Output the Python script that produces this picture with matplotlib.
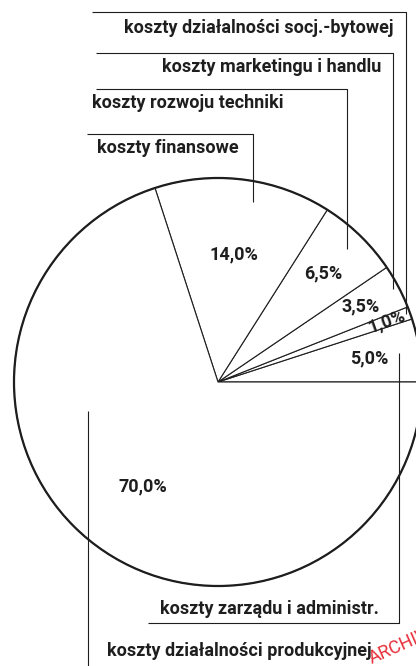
import numpy as np
import matplotlib
matplotlib.use("Agg")
import matplotlib.pyplot as plt

# ---- data ----
categories = ["koszty zarządu i administr.",
              "koszty działalności socj.-bytowej",
              "koszty marketingu i handlu",
              "koszty rozwoju techniki",
              "koszty finansowe",
              "koszty działalności produkcyjnej"]
shares = [5.0, 1.0, 3.5, 6.5, 14.0, 70.0]
pct_labels = [f"{v:.1f}%".replace(".", ",") for v in shares]

# ---- layout (pixel-like coordinates, y up) ----
W, H = 416, 666
fig = plt.figure(figsize=(W / 100, H / 100), dpi=100)
ax = fig.add_axes([0, 0, 1, 1])

def py(y):  # convert from top-based pixel y
    return H - y

cx, cy, R = 218, py(382), 204
ink = "#1e1e1e"
FONT = ["Roboto", "DejaVu Sans"]
fs = 13
fw = "bold"

wedges, _ = ax.pie(shares, startangle=0, counterclock=True, center=(cx, cy),
                   radius=R, colors=["white"] * len(shares),
                   wedgeprops=dict(edgecolor=ink, linewidth=0.8))
ax.set_xlim(0, W)
ax.set_ylim(0, H)
ax.set_aspect("equal")
ax.axis("off")
circ = plt.Circle((cx, cy), R, fill=False, edgecolor=ink, linewidth=1.6, zorder=3)
ax.add_patch(circ)

def point(w, frac_r, ang=None):
    a = (w.theta1 + w.theta2) / 2 if ang is None else ang
    r = frac_r * R
    return cx + r * np.cos(np.radians(a)), cy + r * np.sin(np.radians(a)), a

# percentage labels
lab_r = [0.75, 0.88, 0.79, 0.74, 0.63, 0.63]
for i, (w, lab, fr) in enumerate(zip(wedges, pct_labels, lab_r)):
    x, y, a = point(w, fr)
    rot = a if i == 1 else 0
    ax.text(x, y, lab, ha="center", va="center", fontsize=fs, family=FONT,
            fontweight=fw, color=ink, rotation=rot, rotation_mode="anchor",
            zorder=5)

lw = 0.8
def line(xs, ys):
    ax.plot(xs, ys, color=ink, linewidth=lw, solid_capstyle="butt", zorder=4)

def label(x, y, s, ha):
    ax.text(x, y, s, ha=ha, va="center", fontsize=fs, family=FONT,
            fontweight=fw, color=ink, zorder=5)

# socj.-bytowej (1%): top line + right vertical
x, y, _ = point(wedges[1], 0.98)
line([92, x, x], [py(12), py(12), y])
label(x - 13, py(28), categories[1], "right")

# marketing (3.5%)
x, y, _ = point(wedges[2], 0.97)
line([96, x, x], [py(53), py(53), y])
label(x - 12, py(67), categories[2], "right")

# rozwoju techniki (6.5%)
x, y, _ = point(wedges[3], 0.91)
line([96, x, x], [py(89), py(89), y])
label(92, py(103), categories[3], "left")

# finansowe (14%)
x, y, _ = point(wedges[4], 0.90, ang=79)
line([87, x, x], [py(134), py(134), y])
label(97, py(148), categories[4], "left")

# zarzadu (5%): bottom line + right vertical going up
x, y, _ = point(wedges[0], 0.90)
line([148, x, x], [py(623), py(623), y])
label(x - 20, py(609), categories[0], "right")

# produkcyjnej (70%): left vertical going down
x, y, _ = point(wedges[5], 0.655, ang=192.6)
line([x, x], [y, 0])
label(x + 19, py(651), categories[5], "left")

# archive stamp (partially visible, red)
ax.text(372, py(664), "ARCHIWUM", ha="left", va="baseline", fontsize=13,
        family=FONT, color="#e8303a", rotation=24, rotation_mode="anchor",
        clip_on=True, zorder=2)

fig.savefig("out.png", dpi=100, facecolor="white")
